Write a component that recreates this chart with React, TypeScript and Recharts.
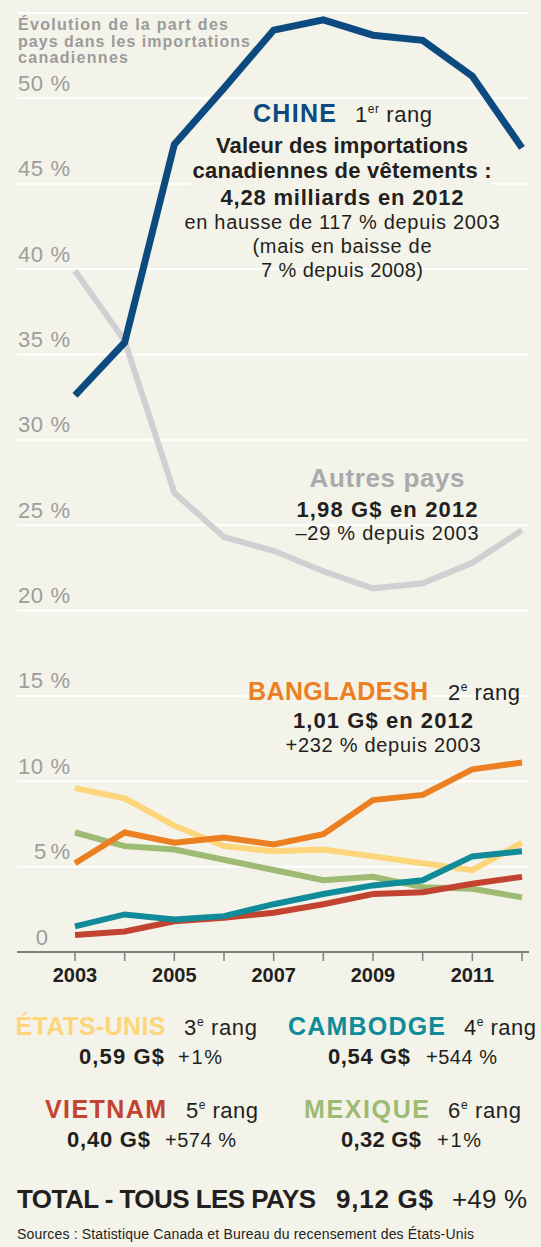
import React from 'react';
import { LineChart, Line, XAxis, YAxis, CartesianGrid } from 'recharts';

// Part des pays dans les importations canadiennes de vêtements (%)
const years = [2003, 2004, 2005, 2006, 2007, 2008, 2009, 2010, 2011, 2012];
const chine = [32.6, 35.7, 47.3, 50.6, 54.0, 54.6, 53.7, 53.4, 51.3, 47.1];
const autres = [39.9, 35.8, 26.9, 24.3, 23.5, 22.3, 21.3, 21.6, 22.8, 24.7];
const bangladesh = [5.2, 7.0, 6.4, 6.7, 6.3, 6.9, 8.9, 9.2, 10.7, 11.1];
const etatsUnis = [9.6, 9.0, 7.4, 6.2, 5.9, 6.0, 5.6, 5.2, 4.8, 6.4];
const mexique = [7.0, 6.2, 6.0, 5.4, 4.8, 4.2, 4.4, 3.8, 3.7, 3.2];
const cambodge = [1.5, 2.2, 1.9, 2.1, 2.8, 3.4, 3.9, 4.2, 5.6, 5.9];
const vietnam = [1.0, 1.2, 1.8, 2.0, 2.3, 2.8, 3.4, 3.5, 4.0, 4.4];

const yTicks = [0, 5, 10, 15, 20, 25, 30, 35, 40, 45, 50];
const labelledYears = [2003, 2005, 2007, 2009, 2011];

const BG = '#f4f3e9';
const INK = '#231f20';
const FONT = "'Liberation Sans', Arial, sans-serif";

const series = [
  { key: 'autres', color: '#cfd0d2', width: 6 },
  { key: 'etatsUnis', color: '#fdd57a', width: 6 },
  { key: 'mexique', color: '#9dbb72', width: 6 },
  { key: 'vietnam', color: '#c2432f', width: 6 },
  { key: 'cambodge', color: '#0f8b99', width: 6 },
  { key: 'bangladesh', color: '#ec7f22', width: 6 },
  { key: 'chine', color: '#0d4a80', width: 7 },
];

const rows = years.map((year, i) => ({
  year,
  chine: chine[i],
  autres: autres[i],
  bangladesh: bangladesh[i],
  etatsUnis: etatsUnis[i],
  mexique: mexique[i],
  cambodge: cambodge[i],
  vietnam: vietnam[i],
}));

const YTick = ({ y, payload }: any) => {
  const v = payload.value;
  if (v === 0) {
    return (
      <text x={48} y={y - 7.5} textAnchor="end" fontSize={22} fill="#9d9d9d" fontFamily={FONT}>0</text>
    );
  }
  return (
    <text
      x={70}
      y={y - 7.5}
      textAnchor="end"
      fontSize={22}
      fill="#9d9d9d"
      fontFamily={FONT}
      textLength={v < 10 ? 36 : 52}
      lengthAdjust="spacing"
    >
      {`${v} %`}
    </text>
  );
};

const XTick = ({ x, y, payload }: any) => {
  if (!labelledYears.includes(payload.value)) return <g />;
  return (
    <text x={x} y={y + 19} textAnchor="middle" fontSize={20} fontWeight={700} fill={INK} fontFamily={FONT}>
      {payload.value}
    </text>
  );
};

type TxtProps = {
  x: number;
  y: number;
  size: number;
  w?: number;
  bold?: boolean;
  color?: string;
  anchor?: 'start' | 'middle' | 'end';
  children: React.ReactNode;
};

const Txt = ({ x, y, size, w, bold, color = INK, anchor = 'start', children }: TxtProps) => (
  <text
    x={x}
    y={y}
    fontSize={size}
    fontWeight={bold ? 700 : 400}
    fill={color}
    textAnchor={anchor}
    textLength={w}
    lengthAdjust="spacing"
  >
    {children}
  </text>
);

const Rang = ({ x, y, n, sup, w }: { x: number; y: number; n: string; sup: string; w: number }) => (
  <Txt x={x} y={y} size={22} w={w}>
    {n}
    <tspan fontSize={12} dy={-9}>{sup}</tspan>
    <tspan dy={9}> rang</tspan>
  </Txt>
);

export default function App() {
  return (
    <div style={{ position: 'absolute', left: 0, top: 0, width: 541, height: 1247, background: BG, overflow: 'hidden' }}>
      <div style={{ position: 'absolute', left: 0, top: 0 }}>
        <LineChart width={541} height={1000} data={rows} margin={{ top: 13, right: 12, bottom: 0, left: 0 }}>
          <CartesianGrid vertical={false} stroke="#ffffff" strokeWidth={2} />
          <XAxis
            dataKey="year"
            type="number"
            domain={[2003, 2012]}
            ticks={years}
            interval={0}
            padding={{ left: 58, right: 7 }}
            height={48}
            axisLine={{ stroke: '#7f7f7f', strokeWidth: 2 }}
            tickLine={{ stroke: '#7f7f7f', strokeWidth: 1.5 }}
            tickSize={9}
            tick={<XTick />}
          />
          <YAxis
            domain={[0, 55]}
            ticks={yTicks}
            interval={0}
            width={17}
            axisLine={false}
            tickLine={false}
            tick={<YTick />}
          />
          {series.map((s) => (
            <Line
              key={s.key}
              dataKey={s.key}
              type="linear"
              stroke={s.color}
              strokeWidth={s.width}
              strokeLinejoin="miter"
              dot={false}
              activeDot={false}
              isAnimationActive={false}
            />
          ))}
        </LineChart>
      </div>

      <svg
        width={541}
        height={1247}
        style={{ position: 'absolute', left: 0, top: 0, pointerEvents: 'none', fontFamily: FONT }}
      >
        {/* titre */}
        <Txt x={18} y={30} size={16} bold color="#9b9b9b" w={210}>Évolution de la part des</Txt>
        <Txt x={18} y={46.5} size={16} bold color="#9b9b9b" w={232}>pays dans les importations</Txt>
        <Txt x={18} y={63} size={16} bold color="#9b9b9b" w={110}>canadiennes</Txt>

        {/* Chine */}
        <rect x={190} y={179} width={302} height={9} fill={BG} />
        <Txt x={253} y={122} size={25} bold color="#0d4a80" w={83}>CHINE</Txt>
        <Rang x={355} y={122} n="1" sup="er" w={77} />
        <Txt x={342} y={153} size={22} bold anchor="middle" w={252}>Valeur des importations</Txt>
        <Txt x={342} y={177.5} size={22} bold anchor="middle" w={299}>canadiennes de vêtements :</Txt>
        <Txt x={342} y={205} size={22} bold anchor="middle" w={243}>4,28 milliards en 2012</Txt>
        <Txt x={342} y={229} size={20} anchor="middle" w={315}>en hausse de 117 % depuis 2003</Txt>
        <Txt x={342} y={253} size={20} anchor="middle" w={179}>(mais en baisse de</Txt>
        <Txt x={342} y={277} size={20} anchor="middle" w={162}>7 % depuis 2008)</Txt>

        {/* Autres pays */}
        <Txt x={387} y={487} size={26} bold color="#a9aaac" anchor="middle" w={155}>Autres pays</Txt>
        <Txt x={387} y={517} size={22} bold anchor="middle" w={181}>1,98 G$ en 2012</Txt>
        <Txt x={387} y={540} size={20} anchor="middle" w={183}>–29 % depuis 2003</Txt>

        {/* Bangladesh */}
        <rect x={246} y={689} width={184} height={11} fill={BG} />
        <Txt x={248} y={700} size={25} bold color="#ec7f22" w={180}>BANGLADESH</Txt>
        <Rang x={448} y={700} n="2" sup="e" w={72} />
        <Txt x={383} y={728} size={22} bold anchor="middle" w={180}>1,01 G$ en 2012</Txt>
        <Txt x={383} y={752} size={20} anchor="middle" w={195}>+232 % depuis 2003</Txt>

        {/* légende du bas */}
        <Txt x={15.5} y={1035} size={25} bold color="#fdd57a" w={150}>ÉTATS-UNIS</Txt>
        <Rang x={184} y={1035} n="3" sup="e" w={73} />
        <Txt x={288} y={1035} size={25} bold color="#0f8b99" w={157}>CAMBODGE</Txt>
        <Rang x={464} y={1035} n="4" sup="e" w={72} />

        <Txt x={79} y={1064} size={22} bold w={85}>0,59 G$</Txt>
        <Txt x={178} y={1064} size={20} w={44}>+1%</Txt>
        <Txt x={328} y={1064} size={22} bold w={82}>0,54 G$</Txt>
        <Txt x={426} y={1064} size={20} w={71}>+544 %</Txt>

        <Txt x={45} y={1118} size={25} bold color="#c2432f" w={121}>VIETNAM</Txt>
        <Rang x={186} y={1118} n="5" sup="e" w={72} />
        <Txt x={304} y={1118} size={25} bold color="#9dbb72" w={125}>MEXIQUE</Txt>
        <Rang x={448} y={1118} n="6" sup="e" w={73} />

        <Txt x={67} y={1147} size={22} bold w={83}>0,40 G$</Txt>
        <Txt x={165} y={1147} size={20} w={71}>+574 %</Txt>
        <Txt x={341} y={1147} size={22} bold w={80}>0,32 G$</Txt>
        <Txt x={437} y={1147} size={20} w={44}>+1%</Txt>

        <Txt x={17} y={1208} size={26} bold w={299}>TOTAL - TOUS LES PAYS</Txt>
        <Txt x={336} y={1208} size={26} bold w={97}>9,12 G$</Txt>
        <Txt x={452} y={1208} size={26} w={75}>+49 %</Txt>

        <Txt x={17} y={1239} size={14} w={457}>Sources : Statistique Canada et Bureau du recensement des États-Unis</Txt>
      </svg>
    </div>
  );
}
